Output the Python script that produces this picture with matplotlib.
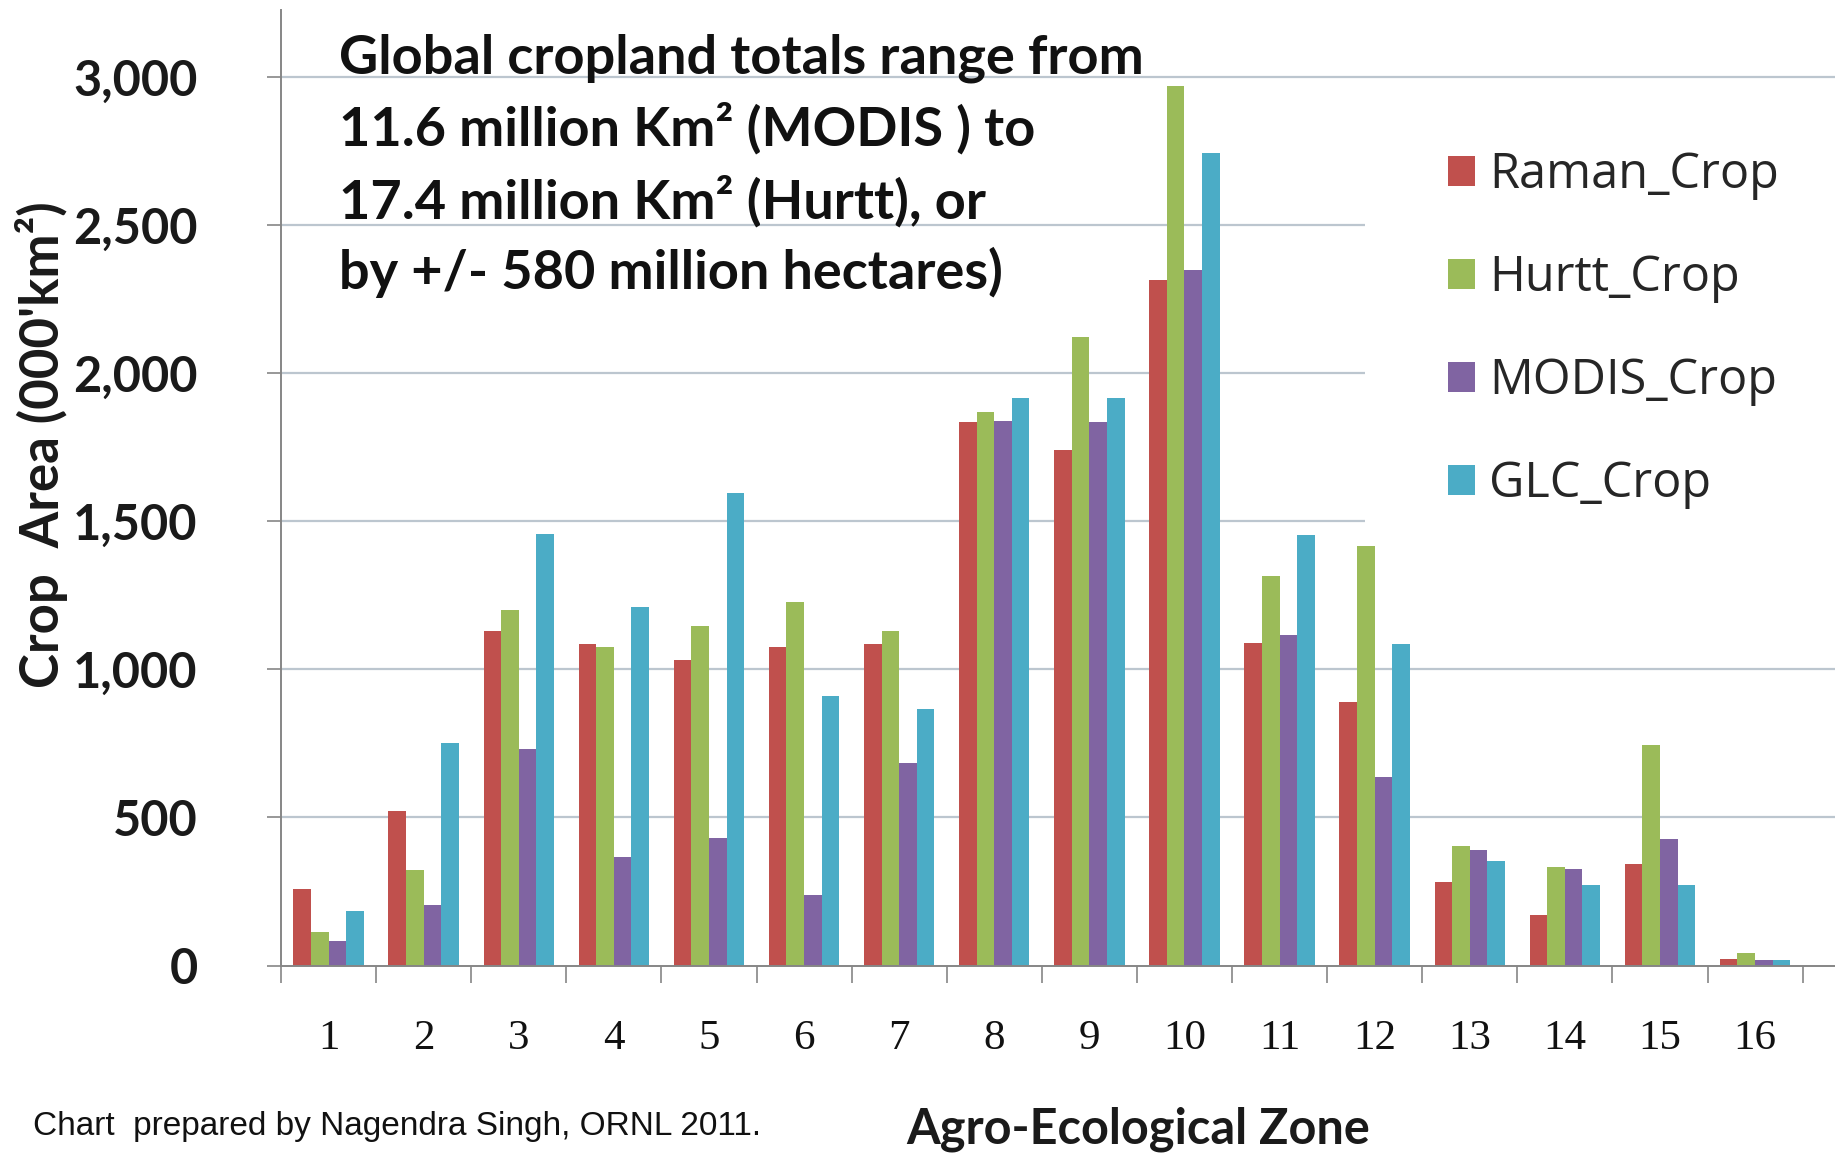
import matplotlib
matplotlib.use("Agg")
import matplotlib.pyplot as plt
from matplotlib.patches import Rectangle
import numpy as np

# crop area per agro-ecological zone, thousand km^2
zones = [str(z) for z in range(1, 17)]
raman = [257, 520, 1130, 1085, 1030, 1075, 1085, 1835, 1742, 2314, 1088, 889, 282, 170, 343, 22]
hurtt = [112, 321, 1202, 1077, 1148, 1229, 1128, 1868, 2123, 2970, 1314, 1415, 405, 332, 744, 42]
modis = [84, 203, 731, 366, 430, 239, 684, 1840, 1834, 2350, 1116, 636, 389, 325, 428, 20]
glc   = [184, 750, 1457, 1212, 1594, 910, 866, 1916, 1916, 2742, 1452, 1086, 352, 271, 272, 20]

series = [("Raman_Crop", raman, "#C0504D"),
          ("Hurtt_Crop", hurtt, "#9BBB59"),
          ("MODIS_Crop", modis, "#8064A2"),
          ("GLC_Crop", glc, "#4BACC6")]

yticks = [0, 500, 1000, 1500, 2000, 2500, 3000]

note_lines = ["Global cropland totals range from",
              "11.6 million Km\u00b2 (MODIS ) to",
              "17.4 million Km\u00b2 (Hurtt), or",
              "by +/- 580 million hectares)"]

W, H = 1835, 1154
fig = plt.figure(figsize=(W / 100, H / 100), dpi=100)
fig.patch.set_facecolor("white")

ax = fig.add_axes([281 / W, 1 - 965.5 / H, 1 - 281 / W, (965.5 - 10) / H])

x = np.arange(1, len(zones) + 1)
bw = 0.185
for i, (name, vals, col) in enumerate(series):
    ax.bar(x + (i - 1.5) * bw, vals, width=bw, color=col, label=name,
           linewidth=0, zorder=3)

ax.set_xlim(0.5, 0.5 + (W - 281) / 95.1)
ax.set_ylim(0, 3000 * (965.5 - 10) / (965.5 - 77))

# y axis
ax.set_yticks(yticks)
ax.set_yticklabels([f"{v:,}" for v in yticks], fontfamily="Lato",
                   fontweight="bold", fontsize=35, color="#1a1a1a")
ax.tick_params(axis="y", length=10, width=1.2, color="#868686", pad=50)
for v in yticks[1:]:
    ax.axhline(v, color="#bcc6cf", linewidth=1.6, zorder=1)

# x axis: category ticks on the boundaries, labels at the centres
ax.set_xticks(np.arange(0.5, 17.5, 1.0))
ax.set_xticklabels([])
ax.set_xticks(x, minor=True)
ax.set_xticklabels(zones, minor=True, fontfamily="Liberation Serif",
                   fontsize=31, color="#111111")
ax.tick_params(axis="x", which="major", length=12, width=1.2,
               color="#868686", direction="out")
ax.tick_params(axis="x", which="minor", length=0, pad=39)

for side in ("top", "right"):
    ax.spines[side].set_visible(False)
for side in ("left", "bottom"):
    ax.spines[side].set_color("#868686")
    ax.spines[side].set_linewidth(1.4)
    ax.spines[side].set_zorder(4)

# white legend panel hides the grid behind the entries
fig.patches.append(Rectangle((1365 / W, 1 - 545 / H), (W - 1365) / W, 425 / H,
                             transform=fig.transFigure, facecolor="white",
                             edgecolor="none", zorder=2))
ax.set_zorder(1)

leg = fig.legend(loc="center left", bbox_to_anchor=(1448 / W, 1 - 330 / H),
                 frameon=False, prop={"family": "Open Sans", "size": 35},
                 handlelength=0.55, handleheight=0.55, handletextpad=0.3,
                 labelspacing=1.1, borderpad=0, borderaxespad=0)
for t in leg.get_texts():
    t.set_color("#262626")
leg.set_zorder(5)

for k, line in enumerate(note_lines):
    fig.text(339 / W, 1 - [58.5, 128.7, 201.3, 272.7][k] / H, line,
             fontfamily="Lato", fontweight="bold", fontsize=39,
             color="#111111", ha="left", va="center", zorder=6)

fig.text(41 / W, 1 - 445 / H, "Crop  Area (000'km\u00b2)", rotation=90,
         fontfamily="Lato", fontweight="bold", fontsize=38, color="#1a1a1a",
         ha="center", va="center")
fig.text(1138 / W, 1 - 1129 / H, "Agro-Ecological Zone", fontfamily="Lato",
         fontweight="bold", fontsize=35, color="#1a1a1a",
         ha="center", va="center")
fig.text(33 / W, 1 - 1127 / H, "Chart  prepared by Nagendra Singh, ORNL 2011.",
         fontfamily="Liberation Sans", fontsize=24,
         color="#111111", ha="left", va="center")

fig.savefig("out.png", dpi=100, facecolor="white")
